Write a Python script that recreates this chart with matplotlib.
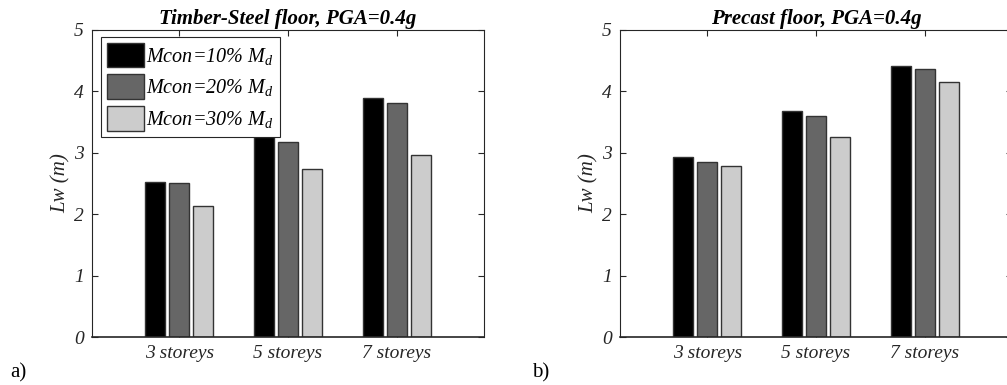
import matplotlib
matplotlib.use('Agg')
import matplotlib.pyplot as plt
import numpy as np

plt.rcParams['font.family'] = ['Liberation Serif', 'DejaVu Serif']
plt.rcParams['mathtext.fontset'] = 'custom'
plt.rcParams['mathtext.it'] = 'Liberation Serif:italic'
plt.rcParams['mathtext.rm'] = 'Liberation Serif'

# data
storeys = ['3 storeys', '5 storeys', '7 storeys']
series = ['Mcon=10% M$_d$', 'Mcon=20% M$_d$', 'Mcon=30% M$_d$']
timber_10 = [2.52, 3.26, 3.89]
timber_20 = [2.50, 3.17, 3.81]
timber_30 = [2.13, 2.74, 2.97]
precast_10 = [2.93, 3.68, 4.41]
precast_20 = [2.85, 3.60, 4.37]
precast_30 = [2.78, 3.25, 4.16]

colors = ['#000000', '#666666', '#cccccc']
edge = '#333333'
axcol = '#262626'

fig = plt.figure(figsize=(10.07, 3.85), dpi=100)
ax1 = fig.add_axes([92/1007, 48/385, 392/1007, 307/385])
ax2 = fig.add_axes([620/1007, 48/385, 392/1007, 307/385])

x = np.arange(1, 4)
off = 0.22
w = 0.18

def draw(ax, vals, title):
    for i, v in enumerate(vals):
        ax.bar(x + (i - 1) * off, v, width=w, color=colors[i], edgecolor=edge,
               linewidth=1.0, label=series[i], zorder=2)
    ax.set_xlim(0.2, 3.8)
    ax.set_ylim(0, 5)
    ax.set_xticks(x)
    ax.set_xticklabels(storeys, fontstyle='italic', fontsize=14, color=axcol)
    ax.set_yticks(range(6))
    ax.set_yticklabels([str(t) for t in range(6)], fontstyle='italic', fontsize=14, color=axcol)
    ax.tick_params(direction='in', top=True, right=True, length=4, width=0.8,
                   colors=axcol, pad=6)
    for s in ax.spines.values():
        s.set_color(axcol)
        s.set_linewidth(0.8)
    ax.spines['bottom'].set_linewidth(1.2)
    ax.set_ylabel('Lw (m)', fontstyle='italic', fontsize=15, color=axcol, labelpad=2)
    ax.set_title(title, fontstyle='italic', fontweight='bold', fontsize=15, pad=4)

draw(ax1, [timber_10, timber_20, timber_30], 'Timber-Steel floor, PGA=0.4g')
draw(ax2, [precast_10, precast_20, precast_30], 'Precast floor, PGA=0.4g')

leg = ax1.legend(loc='upper left', bbox_to_anchor=(0.022, 0.978),
                 prop={'style': 'italic', 'size': 14.5},
                 handlelength=1.85, handleheight=1.5, handletextpad=0.1,
                 labelspacing=0.35, borderpad=0.3, borderaxespad=0.0,
                 fancybox=False, framealpha=1)
leg.get_frame().set_edgecolor(axcol)
leg.get_frame().set_linewidth(0.8)
leg.set_zorder(5)

fig.text(10/1007, 1 - 377/385, 'a)', fontsize=15, va='baseline')
fig.text(532/1007, 1 - 377/385, 'b)', fontsize=15, va='baseline')

fig.savefig('out.png', dpi=100)
